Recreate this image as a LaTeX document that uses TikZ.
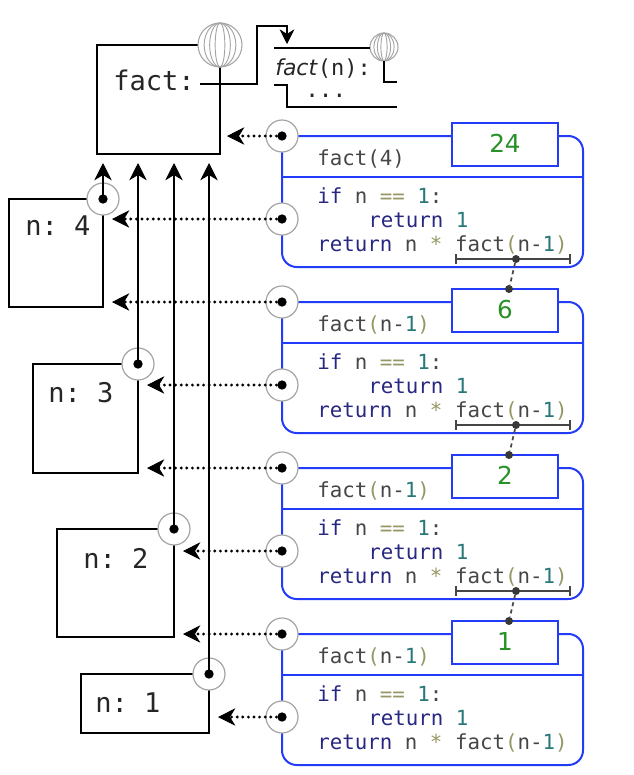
\documentclass[tikz,border=0pt]{standalone}
\usepackage{fontspec}
\setmainfont{DejaVu Sans}
\setmonofont{DejaVu Sans Mono}
\usetikzlibrary{arrows.meta}
\definecolor{frameblue}{RGB}{35,60,250}
\definecolor{kwblue}{RGB}{40,40,130}
\definecolor{opolive}{RGB}{150,150,100}
\definecolor{numteal}{RGB}{40,120,120}
\definecolor{codegray}{RGB}{70,70,70}
\definecolor{valgreen}{RGB}{40,145,40}
\definecolor{ringgray}{RGB}{165,165,165}
\definecolor{brackgray}{RGB}{70,70,70}
\newcommand\kwd[1]{\textcolor{kwblue}{#1}}
\newcommand\opr[1]{\textcolor{opolive}{#1}}
\newcommand\numl[1]{\textcolor{numteal}{#1}}

\begin{document}
\begin{tikzpicture}[x=0.75pt,y=-0.75pt,
  envframe/.style={draw=black, line width=1.5pt, fill=white, inner sep=0pt, outer sep=0pt, anchor=north west},
  ptr/.style={circle, draw=ringgray, fill=white, line width=0.9pt, minimum size=24pt, inner sep=0pt, outer sep=0pt},
  ptrdot/.style={circle, fill=black, minimum size=7pt, inner sep=0pt},
  globe/.style={circle, draw=ringgray, fill=white, line width=0.8pt, inner sep=0pt, outer sep=0pt},
  meridian/.style={draw=ringgray, line width=0.7pt},
  headtip/.style={-{Stealth[length=13pt,width=13pt,inset=4pt,line width=0.6pt]}},
  parentlink/.style={line width=2pt, headtip},
  envlink/.style={line width=2.4pt, line cap=round, dash pattern=on 0pt off 4.2pt, headtip},
  bindline/.style={line width=1.5pt},
  callframe/.style={draw=frameblue, line width=1.5pt, rounded corners=11pt},
  divider/.style={draw=frameblue, line width=1.5pt},
  retbox/.style={draw=frameblue, fill=white, line width=1.5pt, inner sep=0pt, outer sep=0pt, anchor=north west, minimum width=79.5pt, minimum height=32.25pt},
  code/.style={font=\ttfamily\fontsize{15.6}{18}\selectfont, text=codegray, anchor=base west, inner sep=0pt},
  bigmono/.style={font=\ttfamily\fontsize{20.3}{24}\selectfont, text=black!85, anchor=base west, inner sep=0pt},
  fnlabel/.style={font=\fontsize{16.5}{20}\selectfont, text=black!85, anchor=base west, inner sep=0pt},
  valtext/.style={font=\fontsize{18.5}{22}\selectfont, text=valgreen, anchor=base, inner sep=0pt},
  bracket/.style={draw=brackgray, line width=1.1pt},
  smalldot/.style={circle, fill=brackgray!80!black, minimum size=6pt, inner sep=0pt},
  resultlink/.style={draw=brackgray, line width=1.3pt, dash pattern=on 3pt off 2.5pt},
]
\useasboundingbox (0,0) rectangle (633,775);

% ---- call frames (blue) ----
\foreach \k/\val in {0/24,1/6,2/2,3/1}{
  \pgfmathsetmacro\T{136+166*\k}
  \draw[callframe] (282,\T) -- (583,\T) -- (583,\T+131) -- (282,\T+131) -- (282,\T);
  \draw[divider] (282,\T+41) -- (583,\T+41);
  \node[retbox] (rb\k) at (452,\T-13) {};
  \node[valtext] at (505,\T+16) {\val};
  \node[code] at (317,\T+29) {\ifnum\k=0 fact(4)\else fact\opr{(}n-\numl{1}\opr{)}\fi};
  \node[code] at (317,\T+67) {\kwd{if} n \opr{==} \numl{1}:};
  \node[code] at (368,\T+91) {\kwd{return} \numl{1}};
  \node[code] at (317,\T+115) {\kwd{return} n \opr{*} fact\opr{(}n-\numl{1}\opr{)}};
  \ifnum\k<3
    \draw[bracket] (456,\T+118) -- (456,\T+128) (456,\T+123) -- (570,\T+123) (570,\T+118) -- (570,\T+128);
    \node[smalldot] (bk\k) at (516,\T+123) {};
  \fi
  \ifnum\k>0
    \node[smalldot] (rt\k) at (509,\T-13) {};
  \fi
  \node[ptr] (pa\k) at (282,\T) {};
  \node[ptrdot] at (pa\k) {};
  \node[ptr] (pb\k) at (282,\T+83) {};
  \node[ptrdot] at (pb\k) {};
}
\draw[resultlink] (bk0) -- (rt1);
\draw[resultlink] (bk1) -- (rt2);
\draw[resultlink] (bk2) -- (rt3);

% ---- global frame and the function object ----
\node[envframe, minimum width=92.25pt, minimum height=81.75pt] (glob) at (97,45) {};
\node[bigmono] (gflabel) at (113,90) {fact:};
\node[globe, minimum size=33pt] (gg) at (glob.north east) {};
\foreach \f in {0.22,0.47,0.72}
  \draw[meridian] (gg.center) ellipse [x radius=\f*22, y radius=22];

\node[globe, minimum size=21pt] (sg) at (384,47) {};
\foreach \f in {0.22,0.47,0.72}
  \draw[meridian] (sg.center) ellipse [x radius=\f*14, y radius=14];
\coordinate (fntop) at (274,48);
\coordinate (fnbot) at (274,85);
\draw[bindline] (fntop) -- (fntop -| sg.west);
\draw[bindline] (sg.south) -- (384,82) -- (397,82);
\draw[bindline] (fnbot) -- (287,85) -- (287,107) -- (397,107);
\node[fnlabel] (fnname) at (275,75) {\textit{fact}\texttt{(n):}};
\node[fnlabel, font=\ttfamily\fontsize{17}{20}\selectfont] (fnbody) at (305,97) {...};

\coordinate (bstart) at (200,84);
\coordinate (fnentry) at (287,44);
\draw[bindline, -{Stealth[length=11pt,width=11pt,inset=3.5pt,line width=0.5pt]}] (bstart) -- (257,84) -- (257,26) -- (287,26) -- (fnentry);

% ---- local frames ----
\node[envframe, minimum width=70.5pt, minimum height=81pt] (e4) at (9,199) {};
\node[envframe, minimum width=78.75pt, minimum height=81.75pt] (e3) at (33,364) {};
\node[envframe, minimum width=87.75pt, minimum height=81pt] (e2) at (57,529) {};
\node[envframe, minimum width=96pt, minimum height=44.25pt] (e1) at (81,674) {};
\node[bigmono] at (25,235) {n: 4};
\node[bigmono] at (48,402) {n: 3};
\node[bigmono] at (83,568) {n: 2};
\node[bigmono] at (95,712) {n: 1};
\foreach \e/\c in {e4/c4,e3/c3,e2/c2,e1/c1}{
  \node[ptr] (\c) at (\e.north east) {};
  \node[ptrdot] at (\c) {};
}

% ---- parent links ----
\foreach \c in {c4,c3,c2,c1}
  \draw[parentlink, shorten >=6.75pt] (\c.center) -- (\c.center |- glob.south);

% ---- environment links ----
\draw[envlink, shorten >=5.25pt] (pa0.center) -- (pa0.center -| glob.east);
\foreach \p/\e in {pb0/e4,pa1/e4,pb1/e3,pa2/e3,pb2/e2,pa3/e2,pb3/e1}
  \draw[envlink, shorten >=6.75pt] (\p.center) -- (\p.center -| \e.east);
\end{tikzpicture}
\end{document}
